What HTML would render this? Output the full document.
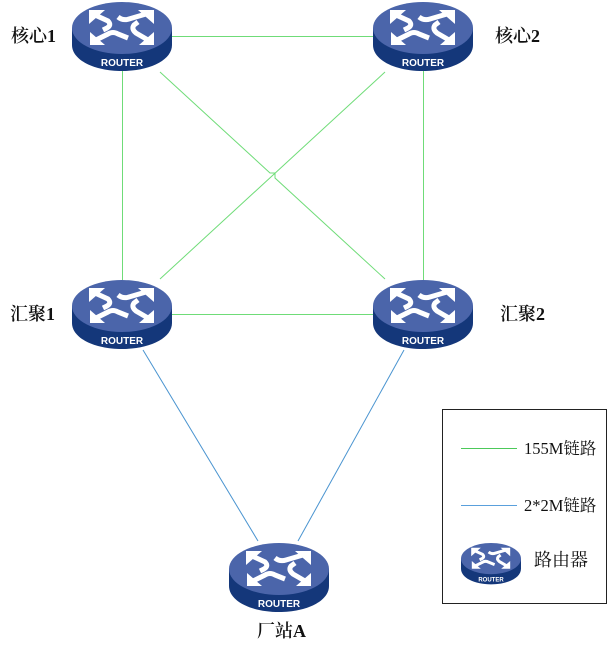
<!DOCTYPE html>
<html>
<head>
<meta charset="utf-8">
<style>
html,body{margin:0;padding:0;background:#fff;width:608px;height:649px;overflow:hidden}
svg{display:block}
.l{font-family:"Liberation Serif","Noto Serif CJK SC",serif;font-size:18px;font-weight:600;fill:#111}
.t{font-family:"Liberation Serif","Noto Serif CJK SC",serif;font-size:16.500px;fill:#111}
.r{font-family:"Liberation Sans",sans-serif;font-size:10px;font-weight:700;fill:#fff;text-anchor:middle}
</style>
</head>
<body>
<svg width="608" height="649" viewBox="0 0 608 649" xmlns="http://www.w3.org/2000/svg">
<defs>
<g id="router">
<path d="M0 26V43C0 58 22 69 50 69S100 58 100 43V26Z" fill="#14377a"/>
<ellipse cx="50" cy="26" rx="50" ry="26" fill="#4b65aa"/>
<g fill="#fff">
<path d="M17 8H33L17 22Z"/>
<path d="M82 8H66L82 22Z"/>
<path d="M18 43H33L18 30Z"/>
<path d="M82 43H67L82 30Z"/>
</g>
<g fill="none" stroke="#fff" stroke-width="5">
<path d="M23 13L36 19Q40 23 35 26L31 28"/>
<path d="M46 15Q51 19 57 17L74 12"/>
<path d="M24 38L36 32Q41 29 46 32L56 36"/>
<path d="M76 38L64 31Q59 27 62 23L66 20"/>
</g>
<text class="r" x="50" y="64">ROUTER</text>
</g>
</defs>
<g fill="none" stroke="#6fdc78" stroke-width="1">
<path d="M172 36.500H373"/>
<path d="M172 314.500H373"/>
<path d="M122.500 70V280"/>
<path d="M423.500 70V280"/>
<path d="M160 72L270 173H275V178L385 279"/>
<path d="M385 72L160 279"/>
</g>
<g fill="none" stroke="#4a94d0" stroke-width="1">
<path d="M143 350L258 541"/>
<path d="M404 350L298 541"/>
</g>
<use href="#router" x="72" y="2"/>
<use href="#router" x="373" y="2"/>
<use href="#router" x="72" y="280"/>
<use href="#router" x="373" y="280"/>
<use href="#router" x="229" y="543"/>
<text class="l" x="11" y="42">核心1</text>
<text class="l" x="495" y="42">核心2</text>
<text class="l" x="10" y="320">汇聚1</text>
<text class="l" x="500" y="320">汇聚2</text>
<text class="l" x="257" y="637">厂站A</text>
<rect x="442.500" y="409.500" width="164" height="194" fill="none" stroke="#222" stroke-width="1"/>
<path d="M461 448.500H517" stroke="#4cc95a" stroke-width="1"/>
<path d="M461 505.500H517" stroke="#5aa0dc" stroke-width="1"/>
<text class="t" x="524" y="454">155M链路</text>
<text class="t" x="524" y="511">2*2M链路</text>
<text class="t" x="534" y="566" style="font-size:18px">路由器</text>
<use href="#router" transform="translate(461 543) scale(.6)"/>
</svg>
</body>
</html>
